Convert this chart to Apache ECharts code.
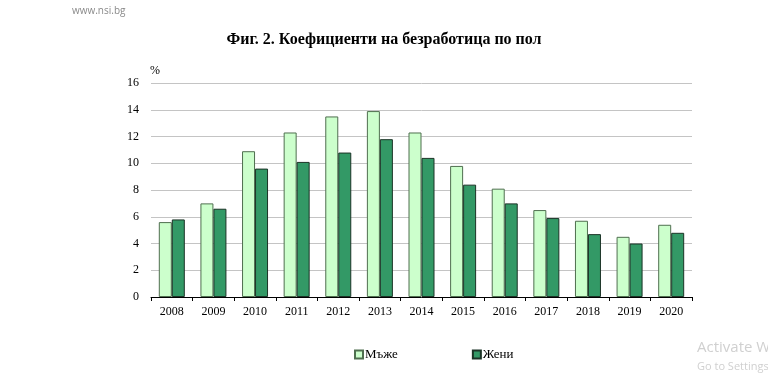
<!DOCTYPE html>
<html><head><meta charset="utf-8">
<script src="https://cdn.jsdelivr.net/npm/echarts@6/dist/echarts.min.js"></script>
<style>html,body{margin:0;padding:0;background:#fff}#c{width:768px;height:379px}</style>
</head><body><div id="c"></div>
<script>
const years = ['2008','2009','2010','2011','2012','2013','2014','2015','2016','2017','2018','2019','2020'];
const men = [5.6, 7.0, 10.9, 12.3, 13.5, 13.9, 12.3, 9.8, 8.1, 6.5, 5.7, 4.5, 5.4];
const women = [5.8, 6.6, 9.6, 10.1, 10.8, 11.8, 10.4, 8.4, 7.0, 5.9, 4.7, 4.0, 4.8];
const seriesNames = ['Мъже', 'Жени'];
const titleText = 'Фиг. 2. Коефициенти на безработица по пол';

const serif = '"Liberation Serif", "DejaVu Serif", serif';
const chart = echarts.init(document.getElementById('c'), null, {renderer: 'canvas'});
chart.setOption({
  animation: false,
  backgroundColor: '#fff',
  title: {
    text: titleText, left: 'center', top: 27,
    textStyle: {fontFamily: serif, fontSize: 16, fontWeight: 'bold', color: '#000'}
  },
  graphic: [
    {type: 'text', left: 72, top: 6, style: {text: 'www.nsi.bg', font: '10px "Open Sans", sans-serif', fill: '#8a8a8a'}},
    {type: 'text', left: 150, top: 65, style: {text: '%', font: '12px ' + serif, fill: '#000'}},
    {type: 'text', left: 697, top: 340, style: {text: 'Activate Windows', font: '15px "Open Sans", sans-serif', fill: '#d0d0d0'}},
    {type: 'text', left: 697, top: 361, style: {text: 'Go to Settings to activate Windows.', font: '11px "Open Sans", sans-serif', fill: '#d0d0d0'}}
  ],
  legend: {
    data: seriesNames, top: 343, left: 349, itemGap: 74,
    itemWidth: 8, itemHeight: 8, icon: 'rect',
    textStyle: {fontFamily: serif, fontSize: 13, color: '#000', padding: [0, 0, 0, -3]}
  },
  grid: {left: 151, right: 76, top: 83, bottom: 82, containLabel: false},
  xAxis: {
    type: 'category', data: years,
    axisLine: {lineStyle: {color: '#000', width: 1}},
    axisTick: {show: true, length: 4, lineStyle: {color: '#000'}},
    axisLabel: {fontFamily: serif, fontSize: 12, color: '#000', margin: 9}
  },
  yAxis: {
    type: 'value', min: 0, max: 16, interval: 2,
    axisLine: {show: false}, axisTick: {show: false},
    splitLine: {lineStyle: {color: '#c4c4c4', width: 1}},
    axisLabel: {fontFamily: serif, fontSize: 12, color: '#000', margin: 12}
  },
  series: [
    {name: seriesNames[0], type: 'bar', data: men, barWidth: 13, barGap: '0%',
     itemStyle: {color: '#ccffcc', borderColor: '#4f6f4f', borderWidth: 1}},
    {name: seriesNames[1], type: 'bar', data: women, barWidth: 13,
     itemStyle: {color: '#339966', borderColor: '#1b3326', borderWidth: 1}}
  ]
});
</script></body></html>
